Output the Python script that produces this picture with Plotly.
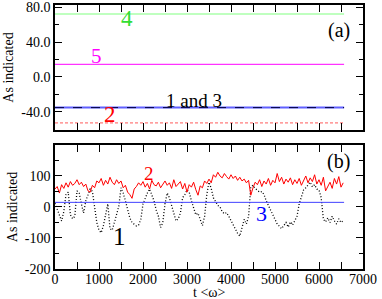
import plotly.graph_objects as go

# ---------------- data ----------------
t_flat = [0, 6570]
a_s4 = [72.0, 72.0]
a_s5 = [14.5, 14.5]
a_s1 = [-35.0, -35.0]
a_s3 = [-35.0, -35.0]
a_s2 = [-52.5, -52.5]

t_b = list(range(0, 6600, 50))
b_s2 = [58, 66, 45, 72, 60, 78, 64, 82, 70, 76,
        88, 72, 80, 66, 74, 52, 48, 70, 62, 84,
        78, 92, 70, 86, 74, 96, 80, 72, 88, 76,
        84, 62, 70, 48, 40, 28, 58, 66, 78, 70,
        82, 64, 76, 58, 86, 72, 68, 80, 62, 74,
        84, 70, 78, 60, 88, 66, 74, 82, 58, 76,
        48, 72, 64, 80, 56, 38, 68, 62, 84, 76,
        90, 78, 104, 96, 112, 100, 94, 108, 98, 90,
        104, 92, 100, 86, 96, 84, 90, 78, 86, 38,
        62, 80, 72, 88, 66, 84, 74, 92, 70, 86,
        78, 108, 82, 96, 74, 90, 80, 94, 72, 88,
        76, 92, 70, 86, 100, 78, 94, 82, 104, 74,
        88, 70, 96, 52, 66, 80, 60, 92, 74, 98,
        64, 78]
b_s1 = [12, -8, -30, -45, -15, 40, 48, -25, -38, -30,
        52, 45, 10, -20, 20, 40, 58, 50, -10, -50,
        -75, -83, -60, -30, 10, -70, -75, -50, -20, 2,
        62, 45, 20, -10, -35, -50, -55, -61, -58, -40,
        10, 30, 45, 58, 40, 20, -10, -30, -66, -50,
        10, 45, 30, 5, -20, -45, -38, -20, 30, 40,
        55, 48, 20, 0, -25, -20, -40, -60, -30, 40,
        80, 60, 30, 15, 5, 0, -15, -22, -18, -30,
        -45, -60, -75, -85, -94, -70, -40, -55, -30, 65,
        70, 60, 55, 48, 50, 40, 20, 5, -10, -20,
        -35, -55, -62, -70, -60, -50, -65, -48, -58, -45,
        -30, 10, 35, 55, 62, 70, 80, 65, 72, 58,
        55, 30, -40, -48, -35, -50, -30, -45, -55, -38,
        -50, -44]
b_s3 = [15.0, 15.0]

x_ticks = [0, 1000, 2000, 3000, 4000, 5000, 6000, 7000]
x_ticklabels = ["0", "1000", "2000", "3000", "4000", "5000", "6000", "7000"]
ya_ticks = [-40, 0, 40, 80]
ya_ticklabels = ["-40.0", "0.0", "40.0", "80.0"]
yb_ticks = [-200, -100, 0, 100]
yb_ticklabels = ["-200", "-100", "0", "100"]

FONT = "Times New Roman, Liberation Serif, serif"

fig = go.Figure()

# top panel (a)
fig.add_trace(go.Scatter(x=t_flat, y=a_s4, mode="lines", line=dict(color="#80ff80", width=1.2),
                         xaxis="x", yaxis="y", showlegend=False))
fig.add_trace(go.Scatter(x=t_flat, y=a_s5, mode="lines", line=dict(color="#ff00ff", width=1),
                         xaxis="x", yaxis="y", showlegend=False))
fig.add_trace(go.Scatter(x=t_flat, y=a_s3, mode="lines", line=dict(color="#6060ff", width=2),
                         xaxis="x", yaxis="y", showlegend=False))
fig.add_trace(go.Scatter(x=t_flat, y=a_s1, mode="lines", line=dict(color="#000040", width=1, dash="dash"),
                         xaxis="x", yaxis="y", showlegend=False))
fig.add_trace(go.Scatter(x=t_flat, y=a_s2, mode="lines", line=dict(color="#ff3030", width=0.8, dash="3px,2px"),
                         xaxis="x", yaxis="y", showlegend=False))

# bottom panel (b)
fig.add_trace(go.Scatter(x=t_b, y=b_s1, mode="lines", line=dict(color="#000000", width=1.3, dash="1px,2px"),
                         xaxis="x2", yaxis="y2", showlegend=False))
fig.add_trace(go.Scatter(x=t_b, y=b_s2, mode="lines", line=dict(color="#ff0000", width=1),
                         xaxis="x2", yaxis="y2", showlegend=False))
fig.add_trace(go.Scatter(x=t_flat, y=b_s3, mode="lines", line=dict(color="#4040ff", width=1),
                         xaxis="x2", yaxis="y2", showlegend=False))

axcommon = dict(showline=True, linecolor="black", linewidth=1.5, mirror="ticks",
                ticks="inside", ticklen=7, tickcolor="black", tickwidth=1.2,
                showgrid=False, zeroline=False, automargin=False,
                ticklabeloverflow="allow",
                tickfont=dict(family=FONT, size=14, color="black"))

fig.update_layout(
    width=382, height=299,
    margin=dict(l=55, r=19, t=5, b=30),
    paper_bgcolor="white", plot_bgcolor="white",
    font=dict(family=FONT, color="black"),
    xaxis=dict(axcommon, domain=[0, 1], range=[0, 7000], anchor="y",
               tickvals=x_ticks, ticktext=x_ticklabels, showticklabels=False,
               minor=dict(dtick=500, ticks="inside", ticklen=7, tickcolor="black")),
    yaxis=dict(axcommon, domain=[0.5265, 1], range=[-60.6, 82.3], anchor="x",
               tickvals=ya_ticks, ticktext=ya_ticklabels,
               minor=dict(dtick=20, tick0=0, ticks="inside", ticklen=4, tickcolor="black"),
               title=dict(text="As indicated", font=dict(family=FONT, size=14), standoff=4)),
    xaxis2=dict(axcommon, domain=[0, 1], range=[0, 7000], anchor="y2",
                tickvals=x_ticks, ticktext=x_ticklabels, ticklabelstandoff=-4,
                minor=dict(dtick=500, ticks="inside", ticklen=7, tickcolor="black")),
    yaxis2=dict(axcommon, domain=[0, 0.4697], range=[-200, 200], anchor="x2",
                tickvals=yb_ticks, ticktext=yb_ticklabels,
                minor=dict(dtick=50, tick0=0, ticks="inside", ticklen=4, tickcolor="black"),
                title=dict(text="As indicated", font=dict(family=FONT, size=14), standoff=4)),
)

# x-axis title placed explicitly below the tick labels
fig.add_annotation(x=0.5, y=-0.088, xref="paper", yref="paper", text="t &lt;ω&gt;",
                   showarrow=False, font=dict(family=FONT, size=14, color="black"),
                   xanchor="center", yanchor="middle")

def ann(x, y, text, color, size, xref="x", yref="y"):
    fig.add_annotation(x=x, y=y, xref=xref, yref=yref, text=text, showarrow=False,
                       font=dict(family=FONT, size=size, color=color),
                       xanchor="center", yanchor="middle")

ann(1636, 67, "4", "#33dd33", 23)
ann(932, 24, "5", "#ff00ff", 21)
ann(3160, -27.4, "1 and 3", "black", 19)
ann(1250, -43.4, "2", "#ff0000", 23)
ann(6455, 52.6, "(a)", "black", 20)

ann(2136, 108, "2", "#ff0000", 19, "x2", "y2")
ann(1477, -95, "1", "black", 25, "x2", "y2")
ann(4682, -20, "3", "#0000ff", 22, "x2", "y2")
ann(6432, 148, "(b)", "black", 20, "x2", "y2")

fig.write_html("out.html", config={"displayModeBar": False},
               post_script="document.body.style.margin='0';document.body.style.padding='0';")
